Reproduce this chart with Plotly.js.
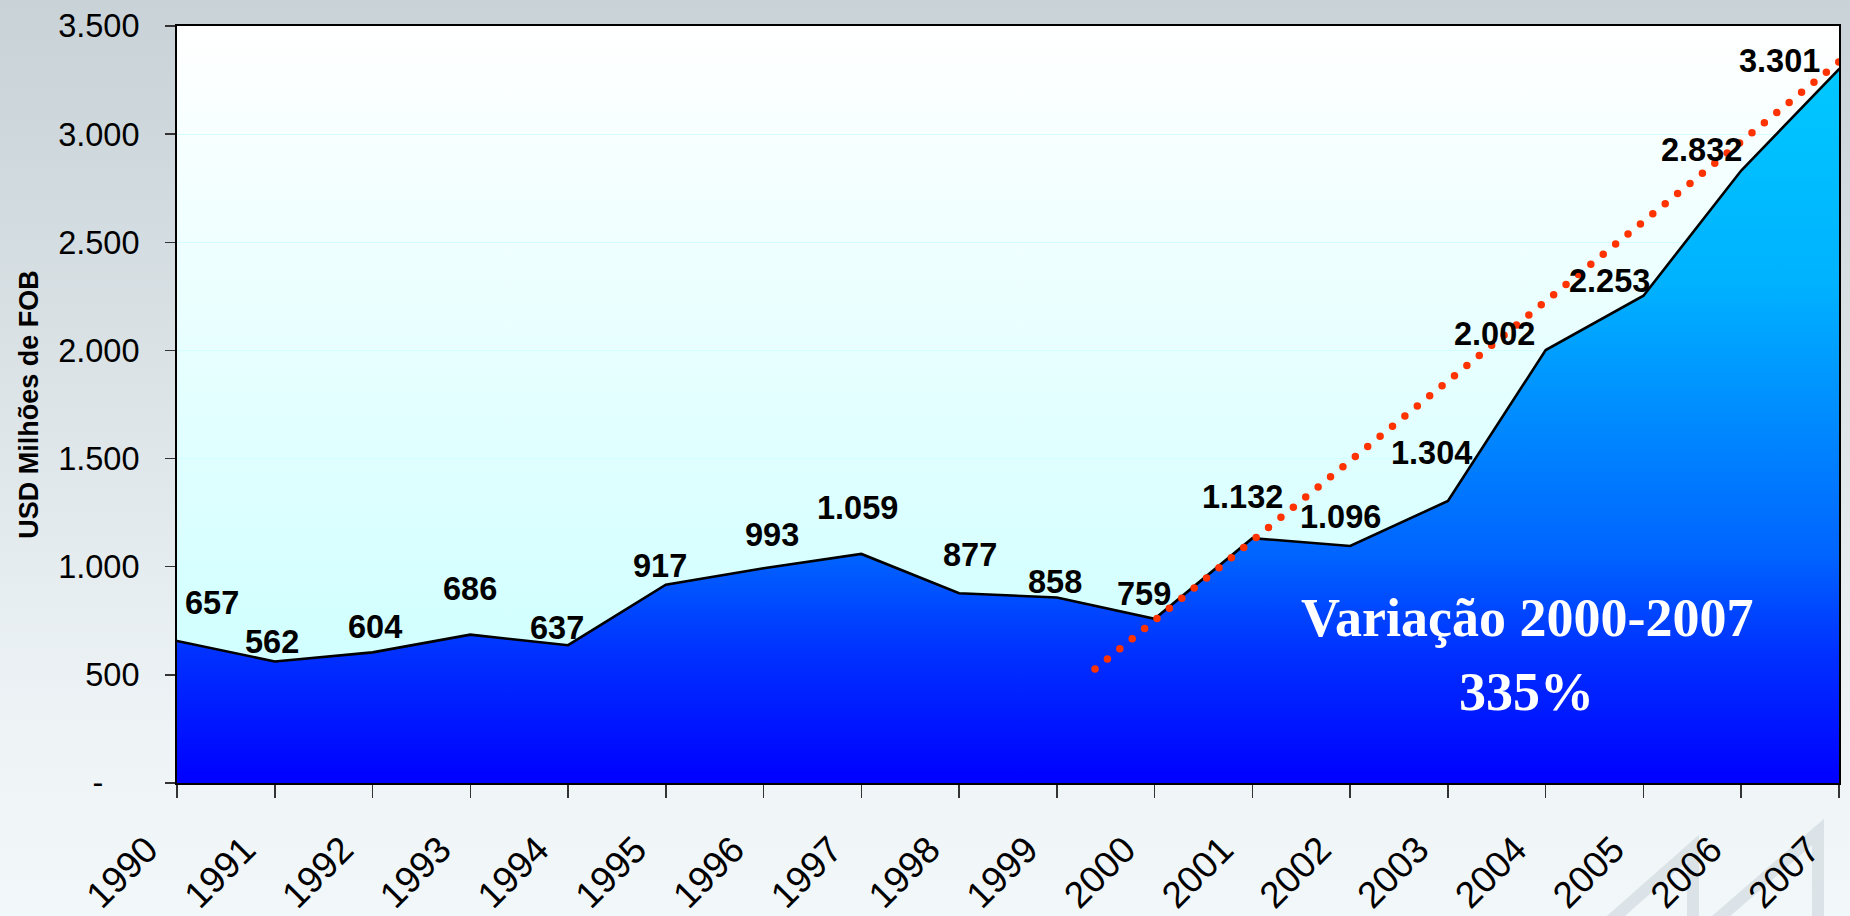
<!DOCTYPE html>
<html>
<head>
<meta charset="utf-8">
<script src="https://cdn.plot.ly/plotly-3.0.1.min.js"></script>
<style>
html,body{margin:0;padding:0;width:1850px;height:916px;overflow:hidden;background:#e6edf0;}
#wrap{position:relative;width:1850px;height:916px;
  background:linear-gradient(to bottom,#c8d2d7 0%,#d3dce0 25%,#e2e9ec 55%,#eef4f6 80%,#f2f7f9 100%);}
#deco{position:absolute;left:0;top:0;}
#chart{position:absolute;left:0;top:0;width:1850px;height:916px;}
.js-line{stroke-linecap:round;}
</style>
</head>
<body>
<div id="wrap">
<svg id="deco" width="1850" height="916">
  <g fill="none" stroke="rgba(140,160,175,0.22)" stroke-width="12">
    <path d="M1600,930 L1693,848 L1693,930"/>
    <path d="M1705,930 L1818,832 L1818,930"/>
  </g>
</svg>
<div id="chart"></div>
</div>
<script>
// ---- data ----
const years = [1990,1991,1992,1993,1994,1995,1996,1997,1998,1999,2000,2001,2002,2003,2004,2005,2006,2007];
const exportValues = [657,562,604,686,637,917,993,1059,877,858,759,1132,1096,1304,2002,2253,2832,3301];
const yTickVals = [0,500,1000,1500,2000,2500,3000,3500];
const yTickText = ['-\u00a0\u00a0\u00a0\u00a0','500','1.000','1.500','2.000','2.500','3.000','3.500'];
const yearLabels = years.map(String);
// dotted trend line (start and end)
const trendYears = [1999.39, 2007.11];
const trendValues = [527, 3375];
const noteLine1 = 'Variação 2000-2007';
const noteLine2 = '335%';
const yTitle = 'USD Milhões de FOB';

// label offsets in px (style, not data)
const labelOffsets = [[35,-38],[-3,-19],[2,-25],[0,-46],[-11,-17],[-6,-19],[8,-33],[-4,-46],[11,-38],
  [-2,-15],[-11,-25],[-10,-41],[-10,-29],[-16,-48],[-51,-16],[-34,-15],[-40,-20],[-60,-8]];

function fmt(v){ return String(v).replace(/\B(?=(\d{3})+(?!\d))/g, '.'); }

const SANS = 'Liberation Sans, Arial, sans-serif';
const SERIF = 'Liberation Serif, Times New Roman, serif';

const bgSvg = 'data:image/svg+xml;utf8,' + encodeURIComponent(
  '<svg xmlns="http://www.w3.org/2000/svg" width="100" height="100" preserveAspectRatio="none">' +
  '<defs><linearGradient id="g" x1="0" y1="0" x2="0" y2="1">' +
  '<stop offset="0" stop-color="#ffffff"/><stop offset="1" stop-color="#c8ffff"/>' +
  '</linearGradient></defs><rect width="100" height="100" fill="url(#g)"/></svg>');

const areaTrace = {
  x: years, y: exportValues, type: 'scatter', mode: 'lines',
  line: {color: '#000000', width: 2.6},
  fill: 'tozeroy',
  fillgradient: {
    type: 'vertical',
    start: 0, stop: Math.max(...exportValues),
    colorscale: [[0,'#0000ff'],[0.18,'#0030ff'],[0.32,'#0064ff'],[0.7,'#00b2ff'],[1,'#00c8ff']]
  },
  hoverinfo: 'skip', showlegend: false
};

const trendTrace = {
  x: trendYears, y: trendValues, type: 'scatter', mode: 'lines',
  line: {color: '#ff3300', width: 7.5, dash: '0px,16px'},
  hoverinfo: 'skip', showlegend: false
};

const annotations = years.map((yr, i) => ({
  x: yr, y: exportValues[i], xref: 'x', yref: 'y',
  text: '<b>' + fmt(exportValues[i]) + '</b>', showarrow: false,
  xshift: labelOffsets[i][0], yshift: -labelOffsets[i][1],
  font: {family: SANS, size: 32.5, color: '#000000'}
}));
annotations.push({
  xref: 'paper', yref: 'paper', x: 0.812, y: 0.218, xanchor: 'center', yanchor: 'middle',
  text: '<b>' + noteLine1 + '</b>', showarrow: false,
  font: {family: SERIF, size: 54, color: '#ffffff'}
});
annotations.push({
  xref: 'paper', yref: 'paper', x: 0.812, y: 0.12, xanchor: 'center', yanchor: 'middle',
  text: '<b>' + noteLine2 + '</b>', showarrow: false,
  font: {family: SERIF, size: 54, color: '#ffffff'}
});

const layout = {
  width: 1850, height: 916,
  margin: {l: 177, r: 11, t: 26, b: 133, pad: 0},
  paper_bgcolor: 'rgba(0,0,0,0)',
  plot_bgcolor: 'rgba(0,0,0,0)',
  showlegend: false,
  images: [{source: bgSvg, xref: 'paper', yref: 'paper', x: 0, y: 1, sizex: 1, sizey: 1,
            xanchor: 'left', yanchor: 'top', sizing: 'stretch', layer: 'below'}],
  xaxis: {
    type: 'linear', range: [1990, 2007],
    tickvals: years, ticktext: yearLabels, tickangle: -45,
    ticks: 'outside', ticklen: 13, tickcolor: '#333333', tickwidth: 1.5,
    ticklabelstandoff: 15, ticklabelshift: -30,
    showline: true, linecolor: '#000000', linewidth: 2, mirror: true,
    showgrid: false, zeroline: false,
    tickfont: {family: SANS, size: 37, color: '#000000'}
  },
  yaxis: {
    range: [0, 3500],
    tickvals: yTickVals, ticktext: yTickText,
    ticks: 'outside', ticklen: 10, tickcolor: '#333333', tickwidth: 1.5,
    ticklabelstandoff: 19,
    showline: true, linecolor: '#000000', linewidth: 2, mirror: true,
    showgrid: true, gridcolor: '#d2ffff', gridwidth: 1, zeroline: false,
    tickfont: {family: SANS, size: 32.5, color: '#000000'},
    title: {text: '<b>' + yTitle + '</b>', font: {family: SANS, size: 27, color: '#000000'}, standoff: 12}
  },
  annotations: annotations
};

Plotly.newPlot('chart', [areaTrace, trendTrace], layout, {displayModeBar: false, staticPlot: true});
</script>
</body>
</html>
